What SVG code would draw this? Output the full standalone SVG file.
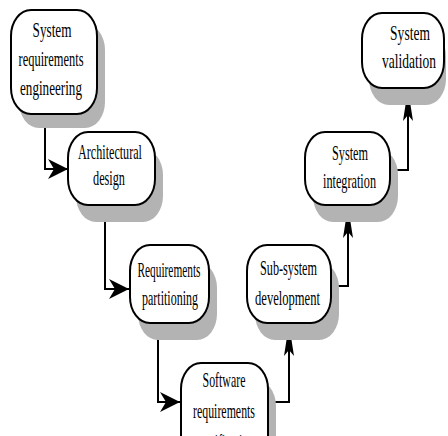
<svg xmlns="http://www.w3.org/2000/svg" width="448" height="436" viewBox="0 0 448 436">
<defs>
<style>
.sh{fill:#b3b3b3;stroke:none}
.bx{fill:#fff;stroke:#000;stroke-width:2}
.t{font-family:"Liberation Serif","Times New Roman",serif;font-size:22px;fill:#000;text-anchor:middle}
.ln{fill:none;stroke:#000;stroke-width:2}
</style>
<marker id="ah" markerUnits="userSpaceOnUse" markerWidth="22" markerHeight="22" refX="20" refY="10" orient="auto" overflow="visible"><path d="M0,0 L20,10 L0,20 L6,10 Z" fill="#000"/></marker>
<marker id="av" markerUnits="userSpaceOnUse" markerWidth="34" markerHeight="12" refX="32" refY="5" orient="auto" overflow="visible"><path d="M0,0 L32,5 L0,10 L6,5 Z" fill="#000"/></marker>
</defs>
<rect width="448" height="436" fill="#fff"/>
<g id="connectors">
<path class="ln" d="M45,114 V169 H68" marker-end="url(#ah)"/>
<path class="ln" d="M105,205 V289 H129" marker-end="url(#ah)"/>
<path class="ln" d="M158,323 V402 H180" marker-end="url(#ah)"/>
<path class="ln" d="M270,402 H289 V324" marker-end="url(#av)"/>
<path class="ln" d="M331,286 H348 V206" marker-end="url(#av)"/>
<path class="ln" d="M390,170 H408 V89" marker-end="url(#av)"/>
</g>
<g id="n1">
<rect class="sh" x="19" y="24" width="86" height="104" rx="20" ry="26"/>
<rect class="bx" x="11" y="10" width="86" height="104" rx="20" ry="26"/>
<text class="t" transform="translate(52,37) scale(0.6,1)">System</text>
<text class="t" transform="translate(51,66) scale(0.566,1)">requirements</text>
<text class="t" transform="translate(51,95) scale(0.597,1)">engineering</text>
</g>
<g id="n2">
<rect class="sh" x="76" y="149" width="87" height="73" rx="20" ry="26"/>
<rect class="bx" x="68" y="132" width="87" height="73" rx="20" ry="26"/>
<text class="t" transform="translate(110,159) scale(0.551,1)">Architectural</text>
<text class="t" transform="translate(109,185) scale(0.557,1)">design</text>
</g>
<g id="n3">
<rect class="sh" x="138" y="262" width="79" height="78" rx="20" ry="26"/>
<rect class="bx" x="130" y="245" width="79" height="78" rx="20" ry="26"/>
<text class="t" transform="translate(169,277) scale(0.516,1)">Requirements</text>
<text class="t" transform="translate(170,305) scale(0.545,1)">partitioning</text>
</g>
<g id="n4">
<rect class="sh" x="189" y="380" width="87" height="100" rx="20" ry="26"/>
<rect class="bx" x="181" y="363" width="87" height="100" rx="20" ry="26"/>
<text class="t" transform="translate(224,387) scale(0.54,1)">Software</text>
<text class="t" transform="translate(224,418) scale(0.54,1)">requirements</text>
<text class="t" transform="translate(224,449) scale(0.534,1)">specification</text>
</g>
<g id="n5">
<rect class="sh" x="255" y="262" width="84" height="78" rx="20" ry="26"/>
<rect class="bx" x="247" y="245" width="84" height="78" rx="20" ry="26"/>
<text class="t" transform="translate(288.5,275) scale(0.555,1)">Sub-system</text>
<text class="t" transform="translate(287.5,305) scale(0.572,1)">development</text>
</g>
<g id="n6">
<rect class="sh" x="313" y="149" width="85" height="73" rx="20" ry="26"/>
<rect class="bx" x="305" y="132" width="85" height="73" rx="20" ry="26"/>
<text class="t" transform="translate(350,160) scale(0.556,1)">System</text>
<text class="t" transform="translate(349.5,188) scale(0.556,1)">integration</text>
</g>
<g id="n7">
<rect class="sh" x="369" y="30" width="77" height="75" rx="20" ry="26"/>
<rect class="bx" x="362" y="13" width="82" height="75" rx="20" ry="26"/>
<text class="t" transform="translate(410,40) scale(0.614,1)">System</text>
<text class="t" transform="translate(409,68) scale(0.614,1)">validation</text>
</g>
</svg>
